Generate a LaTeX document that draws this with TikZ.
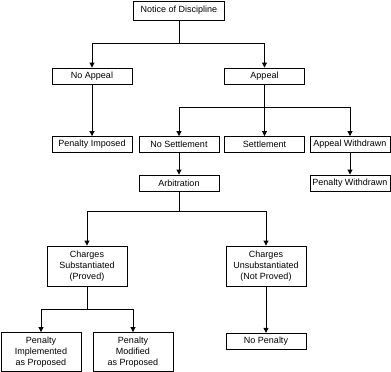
\documentclass[tikz,border=0pt]{standalone}
\usepackage{fontspec}
\setmainfont{Liberation Sans}
\usetikzlibrary{arrows.meta}
\begin{document}
\begin{tikzpicture}[x=1pt,y=-1pt,
  box/.style={draw,line width=0.9pt,rectangle,inner sep=0pt,minimum width=80pt,minimum height=16pt,align=center,font=\fontsize{9}{11}\selectfont},
  conn/.style={line width=0.9pt},
  arr/.style={line width=0.9pt,-{Triangle[length=5pt,width=5pt]}}]
\useasboundingbox (0,0) rectangle (391,372);
\node[box,minimum width=91pt,minimum height=19pt] (notice) at (179,10.5) {Notice of Discipline};
\node[box] (noappeal) at (92,76) {No Appeal};
\node[box] (appeal) at (264.5,76) {Appeal};
\node[box] (penimp) at (92,144.5) {Penalty Imposed};
\node[box] (noset) at (179,144.5) {No Settlement};
\node[box] (settle) at (264.5,144.5) {Settlement};
\node[box] (appwd) at (350,144.5) {Appeal Withdrawn};
\node[box] (arb) at (179,183) {Arbitration};
\node[box] (penwd) at (350,183) {Penalty Withdrawn};
\node[box,minimum height=40pt] (chsub) at (87,266) {Charges\\Substantiated\\(Proved)};
\node[box,minimum height=40pt] (chunsub) at (266,266) {Charges\\Unsubstantiated\\(Not Proved)};
\node[box,minimum height=39pt] (penimpl) at (41,352) {Penalty\\Implemented\\as Proposed};
\node[box,minimum height=39pt] (penmod) at (133,352) {Penalty\\Modified\\as Proposed};
\node[box] (nopen) at (266,341.3) {No Penalty};
\coordinate (j1) at (179,43.3);
\coordinate (j2) at (264.5,107.7);
\coordinate (j3) at (179,211);
\coordinate (j4) at (87,309);
\draw[conn] (notice.south) -- (j1);
\draw[arr] (j1) -| (noappeal.north);
\draw[arr] (j1) -| (appeal.north);
\draw[arr] (noappeal.south) -- (penimp.north);
\draw[conn] (appeal.south) -- (j2);
\draw[arr] (j2) -| (noset.north);
\draw[arr] (j2) -- (settle.north);
\draw[arr] (j2) -| (appwd.north);
\draw[arr] (noset.south) -- (arb.north);
\draw[arr] (appwd.south) -- (penwd.north);
\draw[conn] (arb.south) -- (j3);
\draw[arr] (j3) -| (chsub.north);
\draw[arr] (j3) -| (chunsub.north);
\draw[conn] (chsub.south) -- (j4);
\draw[arr] (j4) -| (penimpl.north);
\draw[arr] (j4) -| (penmod.north);
\draw[arr] (chunsub.south) -- (nopen.north);
\end{tikzpicture}
\end{document}
